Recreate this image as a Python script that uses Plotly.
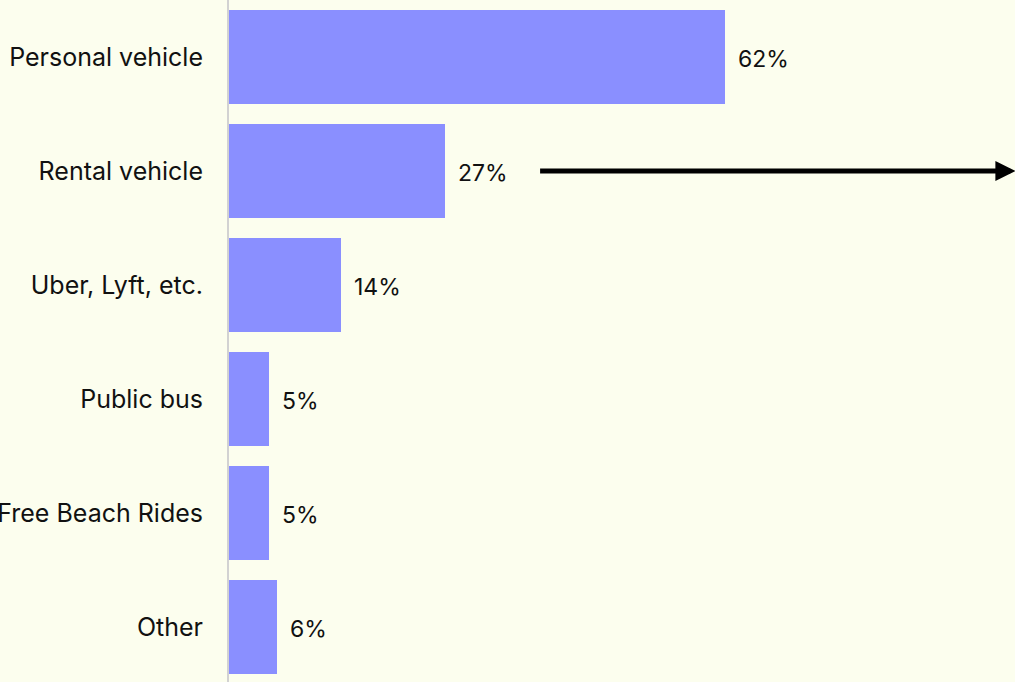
import plotly.graph_objects as go

# Share of respondents by mode of transport
categories = ["Personal vehicle", "Rental vehicle", "Uber, Lyft, etc.",
              "Public bus", "Free Beach Rides", "Other"]
shares = [62, 27, 14, 5, 5, 6]
share_labels = ["62%", "27%", "14%", "5%", "5%", "6%"]

BG = "#FCFEEE"
BAR = "#8A8FFF"
FONT = "Inter, Roboto, sans-serif"

fig = go.Figure()
fig.add_trace(go.Bar(
    x=shares,
    y=list(range(len(categories))),
    orientation="h",
    marker=dict(color=BAR, line=dict(width=0)),
    width=0.825,
    hoverinfo="skip",
))

for i, (v, lab) in enumerate(zip(shares, share_labels)):
    fig.add_annotation(
        x=v, y=i, text=lab, showarrow=False,
        xanchor="left", yanchor="middle", xshift=11, yshift=-2,
        font=dict(family=FONT, size=23, color="#111111"),
    )

# Arrow pointing off to the right from the rental row
fig.add_annotation(
    x=98.3, y=1.0, ax=38.7, ay=1.0,
    xref="x", yref="y", axref="x", ayref="y",
    showarrow=True, arrowhead=2, arrowsize=0.8, arrowwidth=5,
    arrowcolor="#000000", text="",
)

fig.update_layout(
    width=1015, height=682,
    margin=dict(l=229, r=0, t=0, b=0, autoexpand=False),
    paper_bgcolor=BG, plot_bgcolor=BG,
    showlegend=False,
    bargap=0,
    font=dict(family=FONT, size=25, color="#111111"),
)
fig.update_xaxes(range=[0, 98.25], visible=False, fixedrange=True,
                 automargin=False)
fig.update_yaxes(
    range=[5.482, -0.5],
    tickmode="array",
    tickvals=list(range(len(categories))),
    ticktext=categories,
    showgrid=False, zeroline=False,
    showline=True, linecolor="#D2D2D2", linewidth=2,
    ticks="", ticklabelstandoff=19,
    tickfont=dict(family=FONT, size=25, color="#111111"),
    automargin=False,
    fixedrange=True,
)

fig.write_html("out.html")
